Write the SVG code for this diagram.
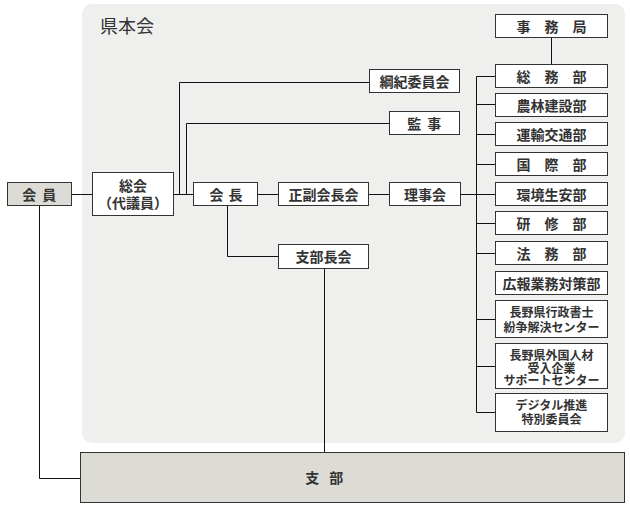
<svg xmlns="http://www.w3.org/2000/svg" width="630" height="519" viewBox="0 0 630 519">
<style>
.box{fill:#fff;stroke:#333;stroke-width:1}
.gbox{fill:#dcdbd6;stroke:#333;stroke-width:1}
.lbl{font-family:"Noto Sans CJK JP","Noto Sans CJK SC",sans-serif;font-size:14px;font-weight:bold;fill:#333;text-anchor:middle}
.sm{font-size:12px}
.conn{fill:none;stroke:#111;stroke-width:1}
</style>
<rect x="82" y="4" width="543" height="439" rx="10" ry="10" fill="#efefed"/>
<text x="100" y="33" style="font-family:'Noto Sans CJK JP','Noto Sans CJK SC',sans-serif;font-size:18px;fill:#333">県本会</text>
<g id="connectors" class="conn">
<path d="M71.5 194.5H92.5"/>
<path d="M173.5 194.5H193.5"/>
<path d="M179.5 194.5V82.5H369.5"/>
<path d="M186.5 194.5V123.5H389.5"/>
<path d="M257.5 194.5H278.5"/>
<path d="M368.5 194.5H389.5"/>
<path d="M460.5 194.5H476.5"/>
<path d="M476.5 76.5V412.5"/>
<path d="M476.5 76.5H495.5M476.5 104.5H495.5M476.5 134.5H495.5M476.5 164.5H495.5M476.5 194.5H495.5M476.5 223.5H495.5M476.5 253.5H495.5M476.5 319.5H495.5M476.5 366.5H495.5M476.5 412.5H495.5"/>
<path d="M551.5 37.5V64.5"/>
<path d="M227.5 205.5V256.5H278.5"/>
<path d="M324.5 268.5V452.5"/>
<path d="M39.5 205.5V478.5H80.5"/>
</g>
<g id="kaiin"><rect class="gbox" x="7.5" y="182.5" width="64" height="23"/><text class="lbl" x="40" y="199.5" letter-spacing="1.5">会 員</text></g>
<g id="soukai"><rect class="box" x="92.5" y="172.5" width="81" height="43"/><text class="lbl" x="133" y="191">総会</text><text class="lbl" x="133" y="208">（代議員）</text></g>
<g id="kaicho"><rect class="box" x="193.5" y="182.5" width="64" height="23"/><text class="lbl" x="226.5" y="199.5" letter-spacing="1">会 長</text></g>
<g id="seifuku"><rect class="box" x="278.5" y="182.5" width="90" height="23"/><text class="lbl" x="323.5" y="199.5">正副会長会</text></g>
<g id="rijikai"><rect class="box" x="389.5" y="182.5" width="71" height="23"/><text class="lbl" x="425" y="199.5">理事会</text></g>
<g id="shibuchokai"><rect class="box" x="278.5" y="244.5" width="90" height="24"/><text class="lbl" x="323.5" y="261.5">支部長会</text></g>
<g id="kouki"><rect class="box" x="369.5" y="69.5" width="90" height="23"/><text class="lbl" x="414.5" y="86.5">綱紀委員会</text></g>
<g id="kanji"><rect class="box" x="389.5" y="111.5" width="70" height="23"/><text class="lbl" x="425" y="128.5" letter-spacing="1.5">監 事</text></g>
<g id="jimukyoku"><rect class="box" x="495.5" y="14.5" width="112" height="23"/><text class="lbl" x="551.5" y="31.5">事　務　局</text></g>
<g id="soumu"><rect class="box" x="495.5" y="64.5" width="112" height="23"/><text class="lbl" x="551.5" y="81.5">総　務　部</text></g>
<g id="nourin"><rect class="box" x="495.5" y="93.5" width="112" height="23"/><text class="lbl" x="551.5" y="110.5">農林建設部</text></g>
<g id="unyu"><rect class="box" x="495.5" y="122.5" width="112" height="23"/><text class="lbl" x="551.5" y="139.5">運輸交通部</text></g>
<g id="kokusai"><rect class="box" x="495.5" y="152.5" width="112" height="23"/><text class="lbl" x="551.5" y="169.5">国　際　部</text></g>
<g id="kankyo"><rect class="box" x="495.5" y="182.5" width="112" height="23"/><text class="lbl" x="551.5" y="199.5">環境生安部</text></g>
<g id="kenshu"><rect class="box" x="495.5" y="211.5" width="112" height="23"/><text class="lbl" x="551.5" y="228.5">研　修　部</text></g>
<g id="houmu"><rect class="box" x="495.5" y="241.5" width="112" height="23"/><text class="lbl" x="551.5" y="258.5">法　務　部</text></g>
<g id="kouhou"><rect class="box" x="495.5" y="271.5" width="112" height="23"/><text class="lbl" x="551.5" y="288.5">広報業務対策部</text></g>
<g id="funso"><rect class="box" x="495.5" y="300.5" width="112" height="37"/><text class="lbl sm" x="551.5" y="316.5">長野県行政書士</text><text class="lbl sm" x="551.5" y="331.5">紛争解決センター</text></g>
<g id="gaikoku"><rect class="box" x="495.5" y="343.5" width="112" height="45"/><text class="lbl sm" x="551.5" y="359.5">長野県外国人材</text><text class="lbl sm" x="551.5" y="372.5">受入企業</text><text class="lbl sm" x="551.5" y="385">サポートセンター</text></g>
<g id="digital"><rect class="box" x="495.5" y="393.5" width="112" height="38"/><text class="lbl sm" x="551.5" y="409.5">デジタル推進</text><text class="lbl sm" x="551.5" y="424">特別委員会</text></g>
<g id="shibu"><rect class="gbox" x="80.5" y="452.5" width="544" height="50"/><text class="lbl" x="326" y="483" letter-spacing="3.5">支 部</text></g>
</svg>
